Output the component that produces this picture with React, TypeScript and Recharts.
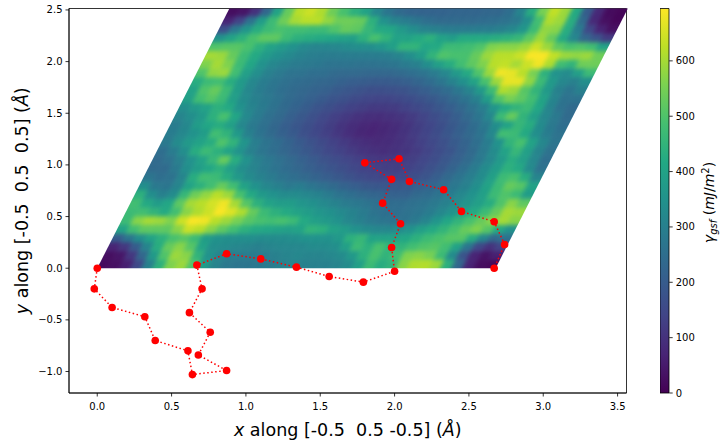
import { Bar, BarChart, Label, ReferenceArea, Scatter, ScatterChart, XAxis, YAxis } from "recharts";

const gammaRows = [
  [20,30,60,150,300,440,560,590,500,380,310,280,270,270,275,285,300,310,300,300,300,310,330,390,470,430,450,570,610,615,590,440,230,70,25,15],
  [25,40,110,230,370,500,590,570,450,350,310,290,290,285,290,300,310,320,310,310,320,330,370,440,490,450,480,560,570,550,470,330,180,70,35,60],
  [70,110,200,310,430,530,570,510,400,340,330,320,310,300,310,320,320,320,330,330,340,390,470,440,490,450,450,480,500,510,480,400,270,150,100,140],
  [200,270,340,400,440,490,510,470,380,350,340,340,340,330,330,330,340,350,350,350,370,440,460,400,400,400,410,440,470,490,510,510,430,320,240,260],
  [400,480,520,520,520,570,640,620,570,520,480,440,420,410,400,390,400,450,440,400,380,350,330,320,320,330,350,390,420,450,490,530,560,510,420,350],
  [470,570,600,590,560,640,690,680,620,590,550,510,490,480,490,470,420,390,370,350,320,300,280,270,260,260,280,310,360,410,450,490,530,570,600,570],
  [470,480,450,420,480,570,610,640,690,660,610,530,470,440,420,400,380,360,345,325,305,285,265,250,250,260,270,290,320,350,390,420,470,530,600,590],
  [480,420,380,410,520,600,620,650,680,600,510,440,400,380,380,360,345,325,305,285,275,265,250,245,245,255,265,280,300,330,360,390,430,500,570,520],
  [440,340,300,330,460,540,580,620,590,490,420,370,350,330,330,320,305,285,265,250,235,225,220,215,215,235,245,265,290,320,350,390,470,500,470,380],
  [340,280,270,310,400,440,480,530,480,400,350,320,300,280,290,270,255,240,220,205,190,185,185,190,195,210,225,250,275,300,340,400,470,530,510,400],
  [270,250,260,310,430,480,470,430,370,330,305,285,265,250,235,220,205,190,175,160,150,145,145,150,165,180,205,235,265,295,330,390,470,490,430,310],
  [240,240,280,340,380,410,440,390,340,310,285,265,245,230,210,195,180,165,150,135,130,125,125,135,150,170,190,220,250,285,330,380,440,420,330,260],
  [240,260,300,350,400,460,530,430,350,300,275,255,235,215,195,175,160,145,130,115,110,110,115,125,145,160,185,210,240,275,320,370,430,390,320,250],
  [250,290,340,430,470,440,400,350,300,270,250,230,210,190,170,150,135,120,105,95,90,95,105,120,140,160,180,210,240,280,330,400,460,390,310,260],
  [280,330,370,400,430,500,450,360,295,265,245,220,195,175,155,135,118,100,88,82,85,95,110,130,150,170,195,220,250,290,350,450,490,400,320,270],
  [290,320,350,380,480,450,370,300,265,240,215,195,170,150,130,110,92,75,70,75,85,100,120,140,160,185,210,235,265,320,480,470,420,340,290,260],
  [290,320,380,410,430,390,320,280,255,230,205,185,165,145,125,105,90,78,72,78,88,105,125,145,165,190,215,245,280,340,400,460,430,330,280,250],
  [310,340,370,440,490,410,325,285,255,235,210,190,170,150,130,115,100,92,90,95,105,120,140,160,180,205,235,270,320,470,530,450,390,320,280,240],
  [340,370,400,440,420,350,310,285,260,240,220,200,180,165,150,135,125,115,115,120,135,150,165,185,205,230,260,295,360,420,450,470,410,310,260,240],
  [390,480,510,470,390,330,300,280,260,240,225,210,195,180,170,155,145,140,140,150,160,175,190,210,235,265,300,380,500,550,520,480,400,310,260,260],
  [400,500,530,470,380,320,290,270,250,240,230,220,210,195,185,175,165,165,170,175,190,205,225,245,275,310,370,470,610,590,510,450,370,300,270,300],
  [430,470,480,430,370,320,290,270,255,245,240,230,225,215,205,200,195,195,200,210,225,245,270,305,345,400,490,590,670,670,580,470,370,320,300,340],
  [500,580,590,480,390,340,300,280,265,260,250,250,240,235,235,230,230,230,240,250,265,285,320,370,420,500,590,680,670,620,550,440,350,330,390,470],
  [560,600,560,470,410,350,320,300,285,280,275,265,265,265,260,260,265,270,285,300,340,390,430,480,520,560,620,630,600,640,680,610,480,450,540,540],
  [600,590,530,470,420,375,345,325,305,295,290,285,290,290,290,290,295,310,340,380,450,500,490,490,530,590,620,620,640,690,690,630,590,580,590,540],
  [500,510,510,490,440,400,375,350,325,310,315,320,330,340,340,360,390,450,450,410,420,470,470,480,500,560,570,570,590,640,590,520,490,500,480,400],
  [350,400,440,490,520,520,470,440,430,420,410,400,390,440,490,450,400,400,420,440,400,380,420,420,420,430,440,460,520,590,530,420,320,230,180,120],
  [170,280,360,430,470,490,480,480,470,470,500,530,520,460,420,410,370,340,310,300,290,285,285,290,290,300,320,360,470,580,570,430,290,150,70,30],
  [70,140,260,380,470,540,600,620,620,580,540,540,530,440,350,310,290,270,250,240,240,240,240,245,250,260,280,340,480,610,590,430,240,80,30,10],
  [25,40,100,230,400,530,620,640,610,540,490,440,400,320,270,240,225,220,220,220,225,225,225,230,230,250,310,430,550,630,590,420,200,80,20,10],
];

// red path of the dislocation core positions
const pathX = [0,-0.02,0.1,0.32,0.39,0.61,0.64,0.87,0.68,0.76,0.62,0.705,0.67,0.87,1.1,1.34,1.56,1.79,2.0,1.98,2.04,1.92,1.98,1.8,2.03,2.1,2.33,2.45,2.67,2.74,2.67];
const pathY = [0,-0.2,-0.38,-0.47,-0.7,-0.8,-1.03,-0.99,-0.84,-0.62,-0.43,-0.2,0.03,0.14,0.09,0.01,-0.08,-0.135,-0.03,0.2,0.43,0.63,0.86,1.02,1.06,0.84,0.76,0.55,0.45,0.23,0];

const xTicks = [0, 0.5, 1, 1.5, 2, 2.5, 3, 3.5];
const yTicks = [-1, -0.5, 0, 0.5, 1, 1.5, 2, 2.5];
const barTicks = [0, 100, 200, 300, 400, 500, 600];
const viridis = ["#440154","#482475","#414487","#355f8d","#2a788e","#21918c","#22a884","#44bf70","#7ad151","#bddf26","#fde725"];

const X_DOMAIN = [-0.19, 3.56];
const Y_DOMAIN = [-1.208, 2.514];
const GAMMA_MAX = 694.6;
const LATTICE = { ax: 2.68, bx: 0.893, by: 2.526 };

const PLOT = { left: 69, right: 626.5, top: 8.5, bottom: 393 };
const FONT = "DejaVu Sans";

const pxPerX = (PLOT.right - PLOT.left) / (X_DOMAIN[1] - X_DOMAIN[0]);
const pxPerY = (PLOT.bottom - PLOT.top) / (Y_DOMAIN[1] - Y_DOMAIN[0]);
const nRows = gammaRows.length;
const nCols = gammaRows[0].length;

const cells = gammaRows.flatMap((row, i) =>
  row.map((gamma, j) => ({
    i,
    j,
    gamma,
    x: (LATTICE.ax * (j + 0.5)) / nCols + (LATTICE.bx * (i + 0.5)) / nRows,
    y: (LATTICE.by * (i + 0.5)) / nRows,
  })),
);
const path = pathX.map((x, k) => ({ x, y: pathY[k] }));

function colorOf(value: number) {
  const t = Math.min(Math.max(value / GAMMA_MAX, 0), 1) * (viridis.length - 1);
  const k = Math.min(Math.floor(t), viridis.length - 2);
  const mix = (s: string, e: string) =>
    Math.round(parseInt(s, 16) * (1 - (t - k)) + parseInt(e, 16) * (t - k));
  const a = viridis[k];
  const b = viridis[k + 1];
  return `rgb(${mix(a.slice(1, 3), b.slice(1, 3))},${mix(a.slice(3, 5), b.slice(3, 5))},${mix(a.slice(5, 7), b.slice(5, 7))})`;
}

// one sheared lattice cell, border cells run on past the edge so the blur does not fade there
function HeatCell(props: any) {
  const { cx, cy, payload } = props;
  const uPx = (LATTICE.ax * pxPerX) / nCols;
  const vPxX = (LATTICE.bx * pxPerX) / nRows;
  const vPxY = (LATTICE.by * pxPerY) / nRows;
  const u0 = payload.j === 0 ? -1.5 : -0.5;
  const u1 = payload.j === nCols - 1 ? 1.5 : 0.5;
  const v0 = payload.i === 0 ? -1.5 : -0.5;
  const v1 = payload.i === nRows - 1 ? 1.5 : 0.5;
  const corner = (u: number, v: number) => `${cx + u * uPx + v * vPxX},${cy - v * vPxY}`;
  const fill = colorOf(payload.gamma);
  return (
    <polygon
      points={[corner(u0, v0), corner(u1, v0), corner(u1, v1), corner(u0, v1)].join(" ")}
      fill={fill}
      stroke={fill}
      strokeWidth={0.6}
    />
  );
}

function PathDot(props: any) {
  return <circle cx={props.cx} cy={props.cy} r={3.8} fill="#ff0000" />;
}

const xAt = (x: number) => PLOT.left + (x - X_DOMAIN[0]) * pxPerX;
const yAt = (y: number) => PLOT.top + (Y_DOMAIN[1] - y) * pxPerY;
const topY = Y_DOMAIN[1];
const topX = (topY / LATTICE.by) * LATTICE.bx;
const clipPoints = [
  [xAt(0), yAt(0)],
  [xAt(LATTICE.ax), yAt(0)],
  [xAt(LATTICE.ax + topX), yAt(topY)],
  [xAt(topX), yAt(topY)],
]
  .map((p) => p.join(","))
  .join(" ");

const tickText = (v: number) => v.toFixed(1).replace("-", "\u2212");

export default function App() {
  return (
    <div style={{ position: "absolute", left: 0, top: 0, width: 728, height: 447, background: "#fff", fontFamily: FONT }}>
      <style>{`.heat { filter: blur(2.1px); clip-path: url(#cellClip); }`}</style>
      <ScatterChart
        width={728}
        height={447}
        margin={{ top: PLOT.top, right: 728 - PLOT.right, bottom: 0, left: 0 }}
      >
        <defs>
          <clipPath id="cellClip" clipPathUnits="userSpaceOnUse">
            <polygon points={clipPoints} />
          </clipPath>
        </defs>
        <XAxis
          type="number"
          dataKey="x"
          domain={X_DOMAIN}
          ticks={xTicks}
          interval={0}
          height={447 - PLOT.bottom}
          allowDataOverflow
          tickFormatter={tickText}
          tick={{ fontSize: 10, fill: "#000" }}
          tickSize={3.5}
          tickMargin={6}
          stroke="#000"
          strokeWidth={0.8}
        >
          <Label
            content={() => (
              <text x={347.75} y={436} textAnchor="middle" fontSize={17.5} fill="#000" style={{ whiteSpace: "pre" }}>
                <tspan fontStyle="italic">x</tspan> along [-0.5  0.5 -0.5] (<tspan fontStyle="italic">Å</tspan>)
              </text>
            )}
          />
        </XAxis>
        <YAxis
          type="number"
          dataKey="y"
          domain={Y_DOMAIN}
          ticks={yTicks}
          interval={0}
          width={PLOT.left}
          allowDataOverflow
          tickFormatter={tickText}
          tick={{ fontSize: 10, fill: "#000" }}
          tickSize={3.5}
          tickMargin={3}
          stroke="#000"
          strokeWidth={0.8}
        >
          <Label
            content={() => (
              <text
                x={28}
                y={200.75}
                transform="rotate(-90 28 200.75)"
                textAnchor="middle"
                fontSize={17.5}
                fill="#000"
                style={{ whiteSpace: "pre" }}
              >
                <tspan fontStyle="italic">y</tspan> along [-0.5  0.5  0.5] (<tspan fontStyle="italic">Å</tspan>)
              </text>
            )}
          />
        </YAxis>
        <Scatter className="heat" data={cells} shape={HeatCell} isAnimationActive={false} />
        <Scatter
          data={path}
          shape={PathDot}
          line={{ stroke: "#ff0000", strokeWidth: 1.5, strokeDasharray: "1.5 2.5" }}
          lineType="joint"
          isAnimationActive={false}
        />
        <ReferenceArea
          x1={X_DOMAIN[0]}
          x2={X_DOMAIN[1]}
          y1={Y_DOMAIN[0]}
          y2={Y_DOMAIN[1]}
          fill="none"
          stroke="#000"
          strokeWidth={0.8}
        />
      </ScatterChart>

      <div style={{ position: "absolute", left: 659.5, top: 0 }}>
        <BarChart
          width={68}
          height={447}
          data={[{ name: "gamma", value: GAMMA_MAX }]}
          margin={{ top: PLOT.top, right: 0, bottom: 447 - PLOT.bottom, left: 0 }}
          barCategoryGap={0}
        >
          <defs>
            <linearGradient id="viridisBar" x1="0" y1="1" x2="0" y2="0">
              {viridis.map((c, k) => (
                <stop key={c} offset={`${(k / (viridis.length - 1)) * 100}%`} stopColor={c} />
              ))}
            </linearGradient>
          </defs>
          <XAxis dataKey="name" hide />
          <YAxis
            orientation="right"
            type="number"
            domain={[0, GAMMA_MAX]}
            ticks={barTicks}
            interval={0}
            width={58.8}
            tick={{ fontSize: 10, fill: "#000" }}
            tickSize={3.5}
            tickMargin={3}
            axisLine={false}
            stroke="#000"
            strokeWidth={0.8}
          >
            <Label
              content={() => (
                <text
                  x={54}
                  y={202.5}
                  transform="rotate(-90 54 202.5)"
                  textAnchor="middle"
                  fontSize={14}
                  fill="#000"
                  style={{ whiteSpace: "pre" }}
                >
                  <tspan fontStyle="italic">γ</tspan>
                  <tspan fontStyle="italic" fontSize={10} dy={3}>gsf</tspan>
                  <tspan dy={-3}> (</tspan>
                  <tspan fontStyle="italic">mJ</tspan>/<tspan fontStyle="italic">m</tspan>
                  <tspan fontSize={10} dy={-5}>2</tspan>
                  <tspan dy={5}>)</tspan>
                </text>
              )}
            />
          </YAxis>
          <Bar dataKey="value" fill="url(#viridisBar)" stroke="#000" strokeWidth={0.8} isAnimationActive={false} />
        </BarChart>
      </div>
    </div>
  );
}
